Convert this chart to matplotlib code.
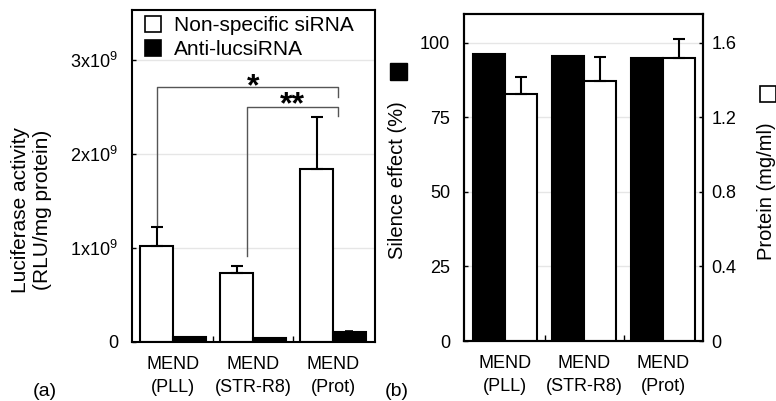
import numpy as np
import matplotlib
matplotlib.use("Agg")
import matplotlib.pyplot as plt
from matplotlib.patches import Patch, Rectangle
from matplotlib.ticker import FuncFormatter

plt.rcParams['font.family'] = ['Liberation Sans', 'DejaVu Sans']
plt.rcParams['mathtext.fontset'] = 'custom'
plt.rcParams['mathtext.rm'] = 'Liberation Sans'
plt.rcParams['mathtext.default'] = 'regular'

# data
groups = ['MEND\n(PLL)', 'MEND\n(STR-R8)', 'MEND\n(Prot)']
nonspecific = [1.02e9, 0.73e9, 1.84e9]
nonspecific_err = [0.20e9, 0.08e9, 0.55e9]
anti_luc = [0.05e9, 0.04e9, 0.105e9]
anti_luc_err = [0.0, 0.0, 0.01e9]

silence = [96.1, 95.6, 95.0]
protein = [1.325, 1.393, 1.52]
protein_err = [0.093, 0.13, 0.10]

x = np.arange(len(groups))
w = 0.41

fig = plt.figure(figsize=(7.76, 4.01), dpi=100)

# ---------------- panel (a)
ax = fig.add_axes([132/776, 1-342/401, 243/776, 332/401])
ax.bar(x - w/2, nonspecific, w, color='white', edgecolor='black', lw=1.5,
       yerr=[np.zeros(3), nonspecific_err], capsize=4,
       error_kw=dict(elinewidth=1.5, capthick=1.5, ecolor='black'))
ax.bar(x + w/2, anti_luc, w, color='black', edgecolor='black', lw=1.5,
       yerr=[np.zeros(3), anti_luc_err], capsize=3,
       error_kw=dict(elinewidth=1.2, capthick=1.2, ecolor='black'))
ax.set_xlim(-0.5125, 2.525)
ax.set_ylim(0, 3.53e9)
ax.set_yticks([0, 1e9, 2e9, 3e9])
ax.yaxis.set_major_formatter(FuncFormatter(
    lambda v, p: '0' if v == 0 else '%dx10$^{9}$' % round(v / 1e9)))
ax.set_xticks(x)
ax.set_xticklabels(groups, fontsize=13, linespacing=1.45)
ax.set_xticks([0.5, 1.5], minor=True)
ax.tick_params(axis='x', which='major', length=0, pad=10)
ax.tick_params(axis='x', which='minor', direction='in', length=4, width=1)
ax.tick_params(axis='y', direction='in', length=3, width=1, labelsize=13, pad=10)
ax.yaxis.grid(True, color='#e6e6e6', lw=1)
ax.set_axisbelow(True)
for s in ax.spines.values():
    s.set_linewidth(1.5)

# significance brackets
br = dict(color='#555555', lw=1)
ax.plot([-0.2, -0.2, 2.06, 2.06], [1.24e9, 2.71e9, 2.71e9, 2.61e9], **br)
ax.plot([0.92, 0.92, 2.06, 2.06], [0.91e9, 2.50e9, 2.50e9, 2.40e9], **br)
ax.text(1.0, 2.55e9, '*', ha='center', va='bottom', fontsize=23, fontweight='bold')
ax.text(1.49, 2.36e9, '**', ha='center', va='bottom', fontsize=23, fontweight='bold')

handles = [Patch(facecolor='white', edgecolor='black', lw=1.2),
           Patch(facecolor='black', edgecolor='black', lw=1.2)]
ax.legend(handles, ['Non-specific siRNA', 'Anti-lucsiRNA'], loc='upper left',
          bbox_to_anchor=(0.0, 1.02), frameon=False, fontsize=15,
          handlelength=0.8, handleheight=0.8, handletextpad=0.6,
          labelspacing=0.25, borderaxespad=0.2)

fig.text(32/776, 1-210/401, 'Luciferase activity\n(RLU/mg protein)', rotation=90,
         ha='center', va='center', fontsize=15, linespacing=1.2)
fig.text(45/776, 1-391/401, '(a)', ha='center', va='center', fontsize=14)

# ---------------- panel (b)
bx = fig.add_axes([464/776, 1-341/401, 239/776, 327/401])
bx.bar(x - w/2, silence, w, color='black', edgecolor='black', lw=1.5)
bx.set_xlim(-0.52, 2.506)
bx.set_ylim(0, 109.6)
bx.set_yticks([0, 25, 50, 75, 100])
bx.set_xticks(x)
bx.set_xticklabels(groups, fontsize=13, linespacing=1.45)
bx.set_xticks([0.5, 1.5], minor=True)
bx.tick_params(axis='x', which='major', length=0, pad=10)
bx.tick_params(axis='x', which='minor', direction='in', length=4, width=1)
bx.tick_params(axis='y', direction='in', length=3, width=1, labelsize=13, pad=10)
bx.yaxis.grid(True, color='#e6e6e6', lw=1)
bx.set_axisbelow(True)
for s in bx.spines.values():
    s.set_linewidth(1.5)

tx = bx.twinx()
tx.bar(x + w/2, protein, w, color='white', edgecolor='black', lw=1.5,
       yerr=[np.zeros(3), protein_err], capsize=4,
       error_kw=dict(elinewidth=1.5, capthick=1.5, ecolor='black'))
tx.set_ylim(0, 1.754)
tx.set_yticks([0, 0.4, 0.8, 1.2, 1.6])
tx.yaxis.set_major_formatter(FuncFormatter(lambda v, p: '0' if v == 0 else '%.1f' % v))
tx.tick_params(axis='y', direction='in', length=3, width=1, labelsize=13, pad=6)
for s in tx.spines.values():
    s.set_linewidth(1.5)

fig.text(398/776, 1-180/401, 'Silence effect (%)', rotation=90,
         ha='center', va='center', fontsize=14.5)
fig.add_artist(Rectangle((390/776, 1-80/401), 17/776, 17/401,
                         transform=fig.transFigure, facecolor='black', edgecolor='black'))
fig.text(767/776, 1-191/401, 'Protein (mg/ml)', rotation=90,
         ha='center', va='center', fontsize=14.5)
fig.add_artist(Rectangle((760/776, 1-102/401), 16/776, 16/401,
                         transform=fig.transFigure, facecolor='white',
                         edgecolor='black', lw=1.2))
fig.text(397/776, 1-391/401, '(b)', ha='center', va='center', fontsize=14)

fig.savefig('out.png', dpi=100)
